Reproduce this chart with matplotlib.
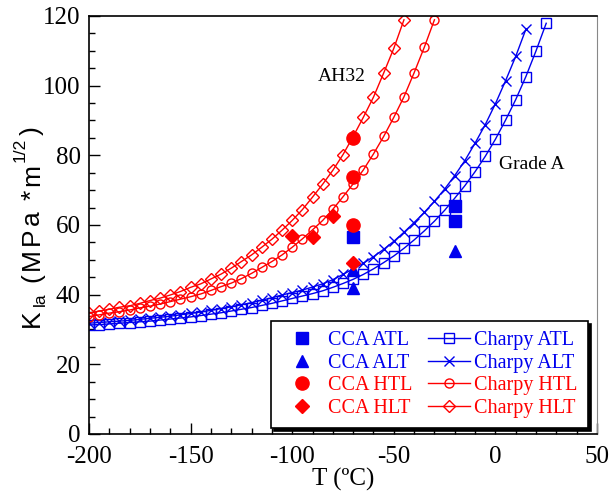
import numpy as np
import matplotlib
matplotlib.use("Agg")
import matplotlib.pyplot as plt
from matplotlib.transforms import IdentityTransform

plt.rcParams['font.family'] = ['Liberation Serif', 'DejaVu Serif']
plt.rcParams['axes.unicode_minus'] = False

# Charpy-derived curves (every 5 degC)
t_atl = np.arange(-200, 26, 5)
k_atl = [31.3, 31.4, 31.6, 31.8, 32.0, 32.2, 32.4, 32.7, 33.0, 33.3,
         33.6, 34.0, 34.4, 34.8, 35.3, 35.8, 36.3, 36.9, 37.5, 38.2,
         38.9, 39.6, 40.3, 41.1, 42.1, 43.2, 44.4, 45.8, 47.4, 49.2,
         51.1, 53.3, 55.7, 58.3, 61.1, 64.2, 67.7, 71.3, 75.3, 79.7,
         84.6, 90.1, 96.0, 102.6, 110.0, 117.9]

t_alt = np.arange(-200, 16, 5)
k_alt = [31.8, 32.0, 32.2, 32.4, 32.6, 32.9, 33.2, 33.5, 33.8, 34.2,
         34.6, 35.0, 35.5, 36.0, 36.5, 37.1, 37.7, 38.4, 39.1, 39.9,
         40.6, 41.3, 42.2, 43.1, 44.3, 45.8, 47.4, 49.0, 50.9, 53.0,
         55.3, 57.9, 60.7, 63.6, 66.8, 70.3, 74.2, 78.5, 83.5, 88.8,
         94.8, 101.4, 108.4, 116.2]

t_htl = np.arange(-200, -29, 5)
k_htl = [33.7, 34.2, 34.7, 35.1, 35.6, 36.2, 36.7, 37.3, 38.0, 38.7,
         39.4, 40.2, 41.2, 42.3, 43.3, 44.6, 46.1, 47.8, 49.5, 51.4,
         53.6, 56.0, 58.6, 61.3, 64.5, 68.1, 71.8, 75.8, 80.4, 85.4,
         90.9, 96.8, 103.7, 111.0, 118.9]

t_hlt = np.arange(-200, -44, 5)
k_hlt = [34.7, 35.3, 35.8, 36.4, 36.8, 37.5, 38.3, 39.0, 39.9, 40.9,
         42.1, 43.1, 44.5, 45.9, 47.6, 49.5, 51.4, 53.6, 55.9, 58.5,
         61.3, 64.4, 68.0, 71.7, 75.7, 80.2, 85.4, 90.9, 96.7, 103.6,
         110.7, 118.9]

# crack-arrest (CCA) measurements
cca_atl_t = [-70, -20, -20]
cca_atl_k = [56.5, 65.5, 61.2]
cca_alt_t = [-70, -70, -20]
cca_alt_k = [47.0, 41.8, 52.5]
cca_htl_t = [-70, -70, -70]
cca_htl_k = [84.9, 73.8, 59.9]
cca_hlt_t = [-100, -90, -80, -70]
cca_hlt_k = [56.8, 56.5, 62.5, 49.0]

blue = '#0000ee'
red = '#ff0000'

fig = plt.figure(figsize=(6.13, 4.99), dpi=100)
ax = fig.add_axes([0.1452, 0.1303, 0.8287, 0.8377])

ms = 6.5
h1, = ax.plot(cca_atl_t, cca_atl_k, 's', color=blue, ms=8, ls='none', label='CCA ATL', zorder=4)
h2, = ax.plot(cca_alt_t, cca_alt_k, '^', color=blue, ms=9, ls='none', label='CCA ALT', zorder=4)
h3, = ax.plot(cca_htl_t, cca_htl_k, 'o', color=red, ms=9.5, ls='none', label='CCA HTL', zorder=4)
h4, = ax.plot(cca_hlt_t, cca_hlt_k, 'D', color=red, ms=7.5, ls='none', label='CCA HLT', zorder=4)

c1, = ax.plot(t_atl, k_atl, '-s', color=blue, lw=1, ms=ms, mfc='none', mew=1, label='Charpy ATL')
c2, = ax.plot(t_alt, k_alt, '-x', color=blue, lw=1, ms=ms + 1, mew=1, label='Charpy ALT')
c3, = ax.plot(t_htl, k_htl, '-o', color=red, lw=1, ms=ms, mfc='none', mew=1, label='Charpy HTL')
c4, = ax.plot(t_hlt, k_hlt, '-D', color=red, lw=1, ms=ms - 0.5, mfc='none', mew=1, label='Charpy HLT')

ax.set_xlim(-200, 50)
ax.set_ylim(0, 120)
ax.set_xticks(np.arange(-200, 51, 50))
ax.set_xticks(np.arange(-200, 51, 10), minor=True)
ax.set_yticks(np.arange(0, 121, 20))
ax.set_yticks(np.arange(0, 121, 5), minor=True)
ax.tick_params(which='both', direction='in', top=False, right=False, labelsize=18)
ax.tick_params(which='major', length=8, width=1)
ax.tick_params(which='minor', length=4, width=1)
ax.tick_params(axis='x', pad=8.5)
ax.tick_params(axis='y', pad=6)
for s in ['left', 'bottom', 'top']:
    ax.spines[s].set_linewidth(1.2)
ax.spines['right'].set_color('#888888')

ax.set_xlabel('T (ºC)', fontsize=18, labelpad=0)

ax.text(-75.5, 102.5, 'AH32', fontsize=14, ha='center', va='center')
ax.text(2, 77.5, 'Grade A', fontsize=14, ha='left', va='center')

leg = ax.legend(handles=[h1, h2, h3, h4, c1, c2, c3, c4], ncol=2,
                loc='lower right', bbox_to_anchor=(0.982, 0.014),
                fontsize=14.5, frameon=True, fancybox=False,
                shadow={'color': 'black', 'alpha': 1},
                handlelength=2.1, handletextpad=0.2, columnspacing=0.8,
                labelspacing=0.18, borderpad=0.5, borderaxespad=0)
leg.get_frame().set_edgecolor('black')
leg.get_frame().set_linewidth(1.2)
for txt, col in zip(leg.get_texts(), [blue, blue, red, red, blue, blue, red, red]):
    txt.set_color(col)

# y label: letter-spaced sans text, built bottom-to-top in pixel coords
ylab = [('K', 19, 0, 3), ('la', 12.5, 6, 11), ('(', 19, 0, 3), ('M', 19, 0, 3),
        ('P', 19, 0, 3), ('a', 19, 0, 10), ('*', 19, 0, 3), ('m', 19, 0, 2),
        ('1/2', 12.5, -14, 3), (')', 19, 0, 0)]
renderer = fig.canvas.get_renderer()
H = fig.bbox.height
ypos = H - 327
for s, size, dx, gap in ylab:
    t = fig.text(39 + dx, ypos, s, fontsize=size, family='Liberation Sans',
                 rotation=90, rotation_mode='anchor', ha='left', va='baseline',
                 transform=IdentityTransform())
    bb = t.get_window_extent(renderer)
    ypos = bb.y1 + gap

fig.savefig('out.png', dpi=100)
